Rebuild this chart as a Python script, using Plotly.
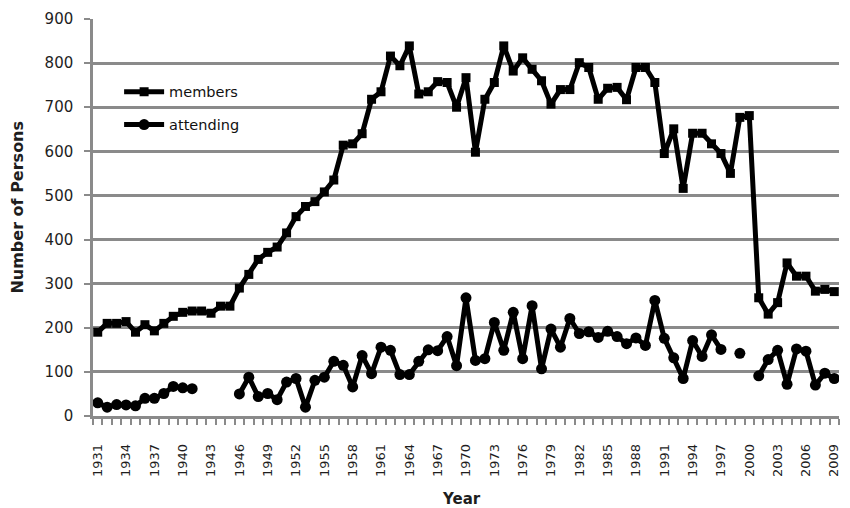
import plotly.graph_objects as go

years = list(range(1931, 2010))

members = [190, 210, 210, 214, 190, 207, 193, 210, 226, 235,
           238, 238, 233, 249, 249, 290, 321, 355, 371, 383,
           415, 452, 475, 486, 508, 535, 614, 617, 640, 718,
           735, 816, 794, 839, 730, 735, 758, 756, 700, 767,
           598, 718, 756, 839, 782, 812, 786, 760, 707, 740,
           740, 801, 790, 718, 743, 745, 717, 790, 790, 756,
           595, 651, 516, 641, 641, 617, 595, 550, 677, 681,
           268, 231, 257, 347, 317, 317, 283, 287, 282]

attending = [30, 20, 26, 25, 23, 40, 40, 51, 67, 64,
             62, None, None, None, None, 50, 88, 44, 51, 37,
             77, 85, 20, 81, 88, 124, 115, 66, 137, 96,
             156, 149, 94, 94, 124, 150, 148, 180, 114, 268,
             126, 130, 212, 149, 235, 130, 250, 107, 197, 156,
             221, 187, 191, 178, 192, 180, 164, 177, 160, 262,
             176, 132, 85, 171, 135, 184, 151, None, 142, None,
             91, 128, 149, 72, 152, 147, 70, 97, 85]

tick_years = list(range(1931, 2010, 3))
y_ticks = list(range(0, 901, 100))

font_family = "'DejaVu Sans', Verdana, sans-serif"
grid_col = "#8a8a8a"
text_col = "#1e1e1e"

fig = go.Figure()
fig.add_trace(go.Scatter(
    x=years, y=members, name="members", mode="lines+markers",
    line=dict(color="black", width=5),
    marker=dict(symbol="square", size=9, color="black"),
    legendgroup="a",
))
fig.add_trace(go.Scatter(
    x=years, y=attending, name="attending", mode="lines+markers",
    line=dict(color="black", width=5),
    marker=dict(symbol="circle", size=11, color="black"),
    connectgaps=False, legendgroup="b",
))

fig.update_layout(
    width=850, height=508,
    margin=dict(l=85, r=19, t=11, b=100),
    paper_bgcolor="white", plot_bgcolor="white",
    font=dict(family=font_family, color=text_col),
    showlegend=True,
    legend=dict(
        x=0.035, y=0.857, xanchor="left", yanchor="top",
        bgcolor="rgba(0,0,0,0)", font=dict(size=14.5, color="#111"),
        traceorder="grouped", tracegroupgap=11,
        itemwidth=40,
    ),
    annotations=[
        dict(text="<b>Number of Persons</b>", xref="paper", yref="paper",
             x=-0.1005, y=0.525, xanchor="center", yanchor="middle",
             textangle=-90, showarrow=False, font=dict(size=16, color=text_col)),
        dict(text="<b>Year</b>", xref="paper", yref="paper",
             x=0.4946, y=-0.21, xanchor="center", yanchor="middle",
             showarrow=False, font=dict(size=15, color=text_col)),
    ],
)

fig.update_xaxes(
    range=[1930.5, 2009.5], automargin=False,
    tickmode="array", tickvals=tick_years, ticktext=[str(y) for y in tick_years],
    tickangle=-90, tickfont=dict(size=13, color=text_col),
    ticks="", showgrid=False, zeroline=False,
    showline=True, linecolor=grid_col, linewidth=2.5,
    minor=dict(ticks="outside", tick0=1930.5, dtick=1, ticklen=6,
               tickcolor=grid_col, tickwidth=1.5, showgrid=False),
    ticklabelstandoff=20,
)
fig.update_yaxes(
    range=[0, 900], tickvals=y_ticks, automargin=False,
    tickfont=dict(size=15, color=text_col),
    ticks="outside", ticklen=6, tickcolor=grid_col, tickwidth=2,
    showgrid=True, gridcolor=grid_col, gridwidth=2.7,
    zeroline=False,
    showline=True, linecolor=grid_col, linewidth=2.5,
    ticklabelstandoff=8,
)

fig.write_html("out.html")
